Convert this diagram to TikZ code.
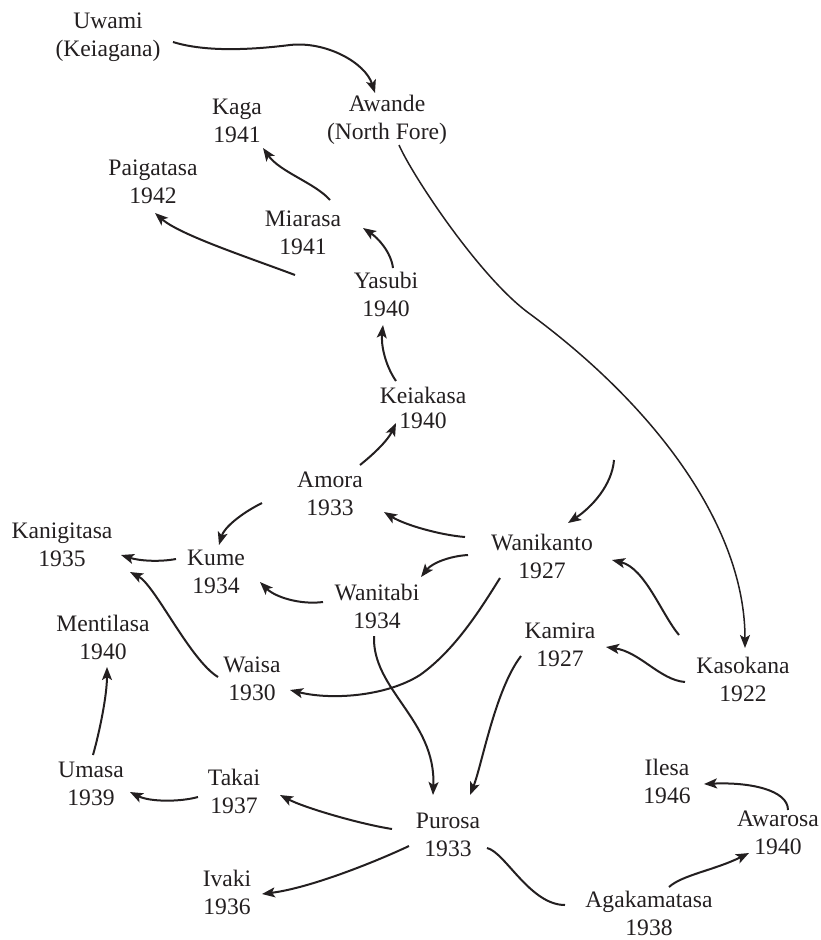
\documentclass[tikz,border=0pt]{standalone}
\usepackage{fontspec}
\setmainfont{Liberation Serif}
\usetikzlibrary{arrows.meta}
\definecolor{ink}{HTML}{231F20}
\begin{document}
\begin{tikzpicture}[x=1pt,y=-1pt,
  lbl/.style={align=center, inner sep=0pt, text=ink, font=\fontsize{23.6}{28}\selectfont},
  arr/.style={draw=ink, line width=2pt, -{Stealth[length=13pt,width=10pt,inset=3pt]}},
  plainline/.style={draw=ink, line width=2pt}]
\useasboundingbox (0,0) rectangle (821,940);
% nodes
\node[lbl] (U)  at (108,37)  {Uwami\\(Keiagana)};
\node[lbl] (Aw) at (387,120) {Awande\\(North Fore)};
\node[lbl] (Kg) at (237,121) {Kaga\\1941};
\node[lbl] (Pg) at (153,182) {Paigatasa\\1942};
\node[lbl] (Mi) at (303,233) {Miarasa\\1941};
\node[lbl] (Ya) at (386,294) {Yasubi\\1940};
\node[lbl, font=\fontsize{23.6}{25}\selectfont] (Ke) at (423,408) {Keiakasa\\1940};
\node[lbl] (Am) at (330,494) {Amora\\1933};
\node[lbl] (Kn) at (62,545)  {Kanigitasa\\1935};
\node[lbl] (Ku) at (216,572) {Kume\\1934};
\node[lbl] (Wt) at (377,606) {Wanitabi\\1934};
\node[lbl] (Me) at (103,637) {Mentilasa\\1940};
\node[lbl] (Wk) at (542,556) {Wanikanto\\1927};
\node[lbl] (Km) at (560,645) {Kamira\\1927};
\node[lbl] (Ks) at (743,679) {Kasokana\\1922};
\node[lbl] (Ws) at (252,679) {Waisa\\1930};
\node[lbl] (Il) at (667,781) {Ilesa\\1946};
\node[lbl] (Um) at (91,784)  {Umasa\\1939};
\node[lbl] (Tk) at (234,791) {Takai\\1937};
\node[lbl] (Ar) at (778,833) {Awarosa\\1940};
\node[lbl] (Pu) at (448,835) {Purosa\\1933};
\node[lbl] (Iv) at (227,892) {Ivaki\\1936};
\node[lbl] (Ag) at (649,913) {Agakamatasa\\1938};
\coordinate (src) at (614,460);
% connectors
\draw[arr] ([shift={(65,5)}]U.center) .. controls (205,52) and (250,50) .. (290,45) .. controls (325,41) and (365,62) .. ([shift={(-12,-27)}]Aw.center);
\draw[arr] ([shift={(27,-33)}]Mi.center) .. controls (315,183) and (280,172) .. ([shift={(26,27)}]Kg.center);
\draw[arr] ([shift={(7,-26)}]Ya.center) .. controls (391,252) and (378,238) .. ([shift={(60,-5)}]Mi.center);
\draw[arr] ([shift={(-91,-19)}]Ya.center) .. controls (250,258) and (180,235) .. ([shift={(2,31)}]Pg.center);
\draw[arr] ([shift={(-27,-27)}]Ke.center) .. controls (385,365) and (381,345) .. ([shift={(-3,31)}]Ya.center);
\draw[arr] ([shift={(30,-29)}]Am.center) .. controls (375,453) and (388,440) .. ([shift={(-27,15)}]Ke.center);
\draw[arr] ([shift={(-68,9)}]Am.center) .. controls (240,514) and (224,528) .. ([shift={(3,-27)}]Ku.center);
\draw[arr] ([shift={(-40,-13)}]Ku.center) .. controls (160,562) and (140,561) .. ([shift={(59,10)}]Kn.center);
\draw[arr] ([shift={(-34,-2)}]Ws.center) .. controls (190,660) and (155,585) .. ([shift={(68,27)}]Kn.center);
\draw[arr] ([shift={(-77,-19)}]Wk.center) .. controls (440,535) and (405,525) .. ([shift={(54,18)}]Am.center);
\draw[arr] ([shift={(-74,-1)}]Wk.center) .. controls (450,556) and (432,563) .. ([shift={(44,-29)}]Wt.center);
\draw[arr] ([shift={(-54,-4)}]Wt.center) .. controls (300,605) and (275,597) .. ([shift={(44,10)}]Ku.center);
\draw[arr] ([shift={(-42,22)}]Wk.center) .. controls (480,610) and (455,650) .. (420,675) .. controls (385,697) and (330,700) .. ([shift={(38,11)}]Ws.center);
\draw[arr] ([shift={(-3,30)}]Wt.center) .. controls (372,690) and (436,720) .. ([shift={(-15,-40)}]Pu.center);
\draw[arr] ([shift={(-39,11)}]Km.center) .. controls (495,690) and (482,765) .. ([shift={(22,-40)}]Pu.center);
\draw[arr, line width=1.5pt] ([shift={(12,25)}]Aw.center) .. controls (412,175) and (480,278) .. (530,314) .. controls (660,410) and (745,530) .. ([shift={(2,-31)}]Ks.center);
\draw[arr] (src) .. controls (612,485) and (592,507) .. ([shift={(26,-33)}]Wk.center);
\draw[arr] ([shift={(-64,-44)}]Ks.center) .. controls (662,615) and (645,568) .. ([shift={(70,4)}]Wk.center);
\draw[arr] ([shift={(-58,3)}]Ks.center) .. controls (660,680) and (640,652) .. ([shift={(46,2)}]Km.center);
\draw[arr] ([shift={(2,-29)}]Um.center) .. controls (100,730) and (107,695) .. ([shift={(4,30)}]Me.center);
\draw[arr] ([shift={(-36,6)}]Tk.center) .. controls (180,802) and (150,802) .. ([shift={(39,8)}]Um.center);
\draw[arr] ([shift={(-56,-6)}]Pu.center) .. controls (360,824) and (305,808) .. ([shift={(46,4)}]Tk.center);
\draw[arr] ([shift={(-39,11)}]Pu.center) .. controls (375,862) and (310,888) .. ([shift={(35,2)}]Iv.center);
\draw[plainline] ([shift={(39,13)}]Pu.center) .. controls (505,852) and (530,905) .. ([shift={(-84,-8)}]Ag.center);
\draw[arr] ([shift={(20,-26)}]Ag.center) .. controls (682,875) and (715,870) .. ([shift={(-29,20)}]Ar.center);
\draw[arr] ([shift={(10,-23)}]Ar.center) .. controls (788,790) and (750,782) .. ([shift={(37,3)}]Il.center);
\end{tikzpicture}
\end{document}
